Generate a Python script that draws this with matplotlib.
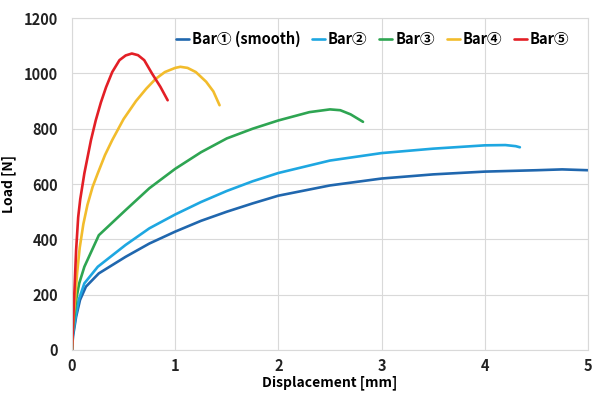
import matplotlib
matplotlib.use("Agg")
import matplotlib.pyplot as plt

plt.rcParams['font.family'] = ['Noto Sans CJK JP', 'DejaVu Sans']

# displacement [mm] / load [N]
bar1_x = [0, 0.01, 0.04, 0.078, 0.135, 0.26, 0.52, 0.75, 1.0, 1.25, 1.5, 1.75, 2.0, 2.5, 3.0, 3.5, 4.0, 4.5, 4.75, 5.0]
bar1_y = [0, 50, 120, 181, 229, 277, 337, 385, 428, 467, 500, 530, 558, 595, 620, 635, 645, 650, 653, 650]

bar2_x = [0, 0.01, 0.035, 0.065, 0.12, 0.25, 0.52, 0.75, 1.0, 1.25, 1.5, 1.75, 2.0, 2.5, 3.0, 3.5, 4.0, 4.2, 4.3, 4.34]
bar2_y = [0, 60, 120, 181, 241, 301, 380, 440, 490, 535, 575, 610, 640, 685, 712, 728, 740, 741, 737, 733]

bar3_x = [0, 0.01, 0.04, 0.07, 0.12, 0.26, 0.52, 0.75, 1.0, 1.25, 1.5, 1.75, 2.0, 2.3, 2.5, 2.6, 2.7, 2.82]
bar3_y = [0, 80, 181, 241, 301, 415, 506, 585, 655, 715, 765, 800, 830, 860, 870, 867, 852, 825]

bar4_x = [0, 0.01, 0.03, 0.05, 0.075, 0.11, 0.15, 0.2, 0.25, 0.32, 0.39, 0.5, 0.62, 0.72, 0.81, 0.9, 1.0, 1.05, 1.12, 1.2, 1.3, 1.37, 1.43]
bar4_y = [0, 100, 181, 280, 370, 455, 525, 590, 639, 705, 759, 835, 900, 945, 980, 1005, 1020, 1024, 1020, 1005, 970, 935, 885]

bar5_x = [0, 0.02, 0.04, 0.06, 0.08, 0.12, 0.184, 0.23, 0.28, 0.33, 0.39, 0.46, 0.52, 0.58, 0.64, 0.70, 0.775, 0.856, 0.927]
bar5_y = [0, 181, 361, 480, 545, 639, 759, 830, 895, 950, 1005, 1048, 1065, 1072, 1066, 1048, 1000, 952, 903]

series = [
    ("Bar① (smooth)", bar1_x, bar1_y, "#2067AE"),
    ("Bar②", bar2_x, bar2_y, "#1EA7E1"),
    ("Bar③", bar3_x, bar3_y, "#2EA552"),
    ("Bar④", bar4_x, bar4_y, "#F2BC2C"),
    ("Bar⑤", bar5_x, bar5_y, "#E31F26"),
]

x_ticks = [0, 1, 2, 3, 4, 5]
y_ticks = [0, 200, 400, 600, 800, 1000, 1200]

fig = plt.figure(figsize=(5.92, 3.94), dpi=100)
ax = fig.add_axes([0.1216, 0.1117, 0.8716, 0.8423])

for name, xs, ys, col in series:
    ax.plot(xs, ys, color=col, lw=1.9, label=name,
            solid_capstyle='round', solid_joinstyle='round')

ax.set_xlim(0, 5)
ax.set_ylim(0, 1200)
ax.set_xticks(x_ticks)
ax.set_yticks(y_ticks)
ax.grid(True, color="#D9D9D9", lw=0.8)
ax.set_axisbelow(True)
for s in ax.spines.values():
    s.set_color("#D9D9D9")
    s.set_linewidth(0.8)
ax.tick_params(length=0, labelsize=10.5, colors="#222222")
ax.tick_params(axis='y', pad=10)
ax.tick_params(axis='x', pad=6)
for lbl in ax.get_xticklabels() + ax.get_yticklabels():
    lbl.set_fontweight('bold')

ax.set_xlabel("Displacement [mm]", fontsize=10, fontweight='bold', labelpad=1)
ax.set_ylabel("Load [N]", fontsize=10, fontweight='bold', labelpad=6)

leg = ax.legend(loc='upper right', bbox_to_anchor=(0.99, 1.0), ncol=5, frameon=False,
                handlelength=0.9, handletextpad=0.2, columnspacing=0.8,
                prop={'weight': 'bold', 'size': 10.5})

fig.savefig("out.png", dpi=100)
